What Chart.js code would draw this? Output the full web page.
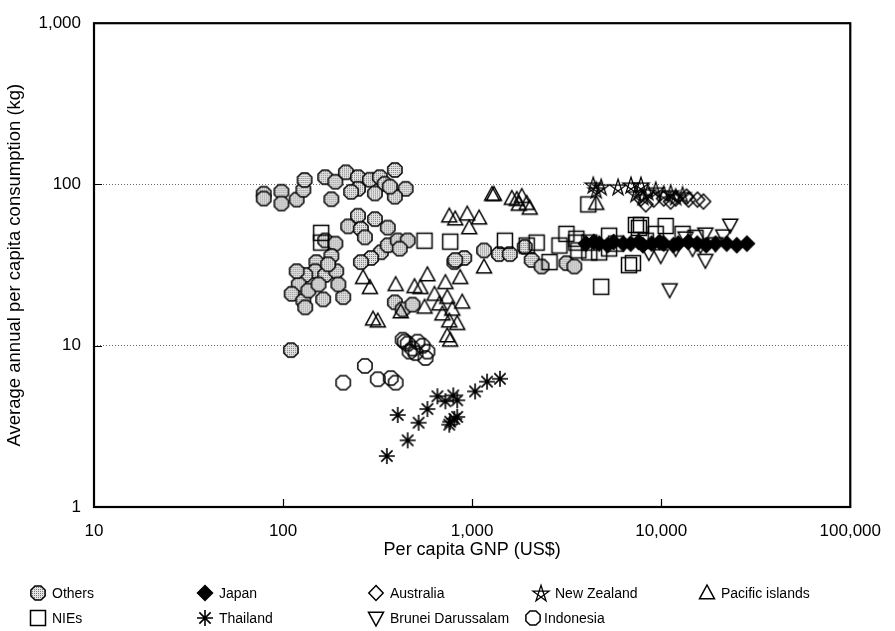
<!DOCTYPE html>
<html>
<head>
<meta charset="utf-8">
<script src="https://cdn.jsdelivr.net/npm/chart.js@4"></script>
<style>
html, body { margin: 0; background: #fff; }
</style>
</head>
<body>
<canvas id="fig" width="895" height="631"></canvas>
<script>
// values: per capita GNP (US$) and annual consumption (kg)
var othersGnp = [79, 79, 98, 98, 118, 128, 130, 167, 189, 180, 215, 249, 288, 249, 229, 325, 390, 345, 445, 390, 306, 367,
  249, 221, 306, 358, 258, 271, 167, 189, 329, 292, 258, 358, 404, 456, 414,
  180, 150, 148, 167, 191, 131, 121, 111, 128, 131, 163, 208, 196, 118, 136, 154, 173, 110,
  390, 429, 484, 805, 908, 1156, 1386, 1583, 1897, 2065, 2330, 814, 3153, 3473]
var othersKg = [87.7, 81.8, 90.2, 76.2, 80.6, 92.7, 106.6, 111, 104, 81, 119, 111, 107, 94, 90, 111, 123, 101, 94, 84, 88, 97,
  64, 55, 61, 54, 53, 47, 45, 43, 38, 35, 33, 42, 45, 45, 40,
  36, 33, 29, 27.5, 29, 27.5, 24, 21, 19, 17.3, 19.4, 20, 24, 29, 22, 24, 32, 9.4,
  18.6, 16.8, 18, 33, 35, 39, 37, 37, 41, 34, 31, 34, 32.5, 31]

var japanGnp = [4000, 4400, 4700, 5200, 5600, 6300, 6900, 7600, 8000, 8900, 9800, 10300, 11600, 12300, 13900, 15500, 17300, 19400, 22200, 25100, 28400]
var japanKg = [43, 44, 43, 42, 44, 43, 43, 44, 42, 43, 44, 43, 42, 43, 44, 43, 42, 43, 43, 42, 43]

var australiaGnp = [7807, 8290, 9133, 10310, 11220, 11920, 13610, 13950, 15550, 16720]
var australiaKg = [81.8, 75.2, 80.6, 81.8, 78.4, 81.8, 84.1, 80.6, 80.6, 78.4]

var newZealandGnp = [4370, 4531, 4813, 5910, 6918, 7348, 7807, 7998, 8494, 9356, 10310, 11220, 11920, 12970]
var newZealandKg = [99.4, 92.7, 96.7, 96.7, 99.4, 87.7, 99.4, 84.1, 90.2, 92.7, 87.7, 88.9, 84.1, 86.5]

var pacificGnp = [1274, 1305, 1622, 1723, 1944, 2016, 1830, 1765, 757, 814, 942, 1088, 965,
  265, 288, 394, 496, 299, 317, 419, 580, 533, 632, 722, 865, 1156, 739, 886, 757, 834, 739, 766, 560, 4531, 671, 785, 696]
var pacificKg = [86.5, 86.5, 81.8, 80.6, 76.2, 71.1, 84.1, 75.2, 63.6, 61, 65.4, 61.8, 53.8,
  26.4, 22.9, 23.9, 23.2, 14.6, 14.2, 16.2, 27.5, 22.9, 20.8, 24.6, 26.4, 30.7, 19.9, 18.6, 14.2, 13.7, 11.5, 10.8, 17.3, 76.2, 18.1, 16.8, 15.7]

var niesGnp = [159, 159, 560, 766, 1490, 1944, 2194, 2567, 3153, 2897, 3557, 3644, 4113, 4813, 5302, 5302, 6751, 7348, 7620, 7807,
  9356, 10560, 12970, 4698, 7086, 3557, 4164, 4164, 5771, 8290, 15180]
var niesKg = [50.1, 43.6, 44.8, 44.2, 44.8, 41.8, 43.6, 33.0, 49.4, 41.8, 43.6, 39.0, 75.2, 23.2, 48.1, 40.1, 31.6, 56.1, 53.8, 56.1,
  49.4, 55.3, 49.4, 37.9, 32.5, 46.1, 37.9, 43.6, 43.0, 44.8, 46.7]

var thailandGnp = [354, 404, 456, 521, 580, 655, 722, 795, 834, 766, 805, 834, 757, 1037, 1199, 1403]
var thailandKg = [2.07, 3.72, 2.59, 3.33, 4.05, 4.86, 4.53, 4.92, 4.59, 3.38, 3.52, 3.62, 3.24, 5.21, 5.99, 6.24]

var bruneiGnp = [23170, 17120, 21290, 13450, 9940, 17120, 8600, 11920, 14640, 11080, 19330, 16120]
var bruneiKg = [56.1, 49.4, 48.1, 46.7, 36.3, 33.9, 37.9, 40.1, 40.1, 22.3, 43.0, 41.8]

var indonesiaGnp = [208, 271, 317, 371, 394, 440, 456, 484, 514, 546, 580, 502, 467, 567, 429]
var indonesiaKg = [5.9, 7.5, 6.2, 6.3, 5.9, 10.6, 10.3, 9.6, 10.6, 10.0, 9.2, 9.0, 9.2, 8.4, 10.9]

var xTickValues = [10, 100, 1000, 10000, 100000]
var xTickLabels = ['10', '100', '1,000', '10,000', '100,000']
var yTickValues = [1, 10, 100, 1000]
var yTickLabels = ['1', '10', '100', '1,000']

var FONT = '"Liberation Sans", Arial, Helvetica, sans-serif'

// marker glyphs
function marker(draw) {
  var c = document.createElement('canvas')
  c.width = 20
  c.height = 20
  var g = c.getContext('2d')
  g.translate(10, 10)
  g.lineWidth = 1.5
  g.strokeStyle = '#000'
  g.fillStyle = '#000'
  g.lineJoin = 'miter'
  draw(g)
  return c
}
function poly(g, pts) {
  g.beginPath()
  pts.forEach(function (p, i) { if (i) g.lineTo(p[0], p[1]); else g.moveTo(p[0], p[1]) })
  g.closePath()
}
function octagon(g) {
  var pts = []
  for (var k = 0; k < 8; k++) {
    var a = Math.PI / 8 + k * Math.PI / 4
    pts.push([7.7 * Math.cos(a), 7.7 * Math.sin(a)])
  }
  poly(g, pts)
}
var dots = document.createElement('canvas')
dots.width = 2; dots.height = 2
var dg = dots.getContext('2d')
dg.fillStyle = '#e4e4e4'; dg.fillRect(0, 0, 2, 2)
dg.fillStyle = '#7c7c7c'; dg.fillRect(0, 0, 1, 1)

var marks = {
  others: marker(function (g) { octagon(g); g.fillStyle = g.createPattern(dots, 'repeat'); g.fill(); g.stroke() }),
  indonesia: marker(function (g) { octagon(g); g.stroke() }),
  nies: marker(function (g) { g.strokeRect(-7.5, -7.5, 15, 15) }),
  pacific: marker(function (g) { poly(g, [[0, -8], [7.5, 5.8], [-7.5, 5.8]]); g.stroke() }),
  brunei: marker(function (g) { poly(g, [[-7.5, -5.8], [7.5, -5.8], [0, 8]]); g.stroke() }),
  australia: marker(function (g) { poly(g, [[0, -7.5], [7.2, 0], [0, 7.5], [-7.2, 0]]); g.stroke() }),
  japan: marker(function (g) { poly(g, [[0, -7.5], [7.5, 0], [0, 7.5], [-7.5, 0]]); g.fill(); g.stroke() }),
  thailand: marker(function (g) {
    g.lineWidth = 1.6
    g.beginPath()
    for (var k = 0; k < 4; k++) {
      var a = k * Math.PI / 4
      g.moveTo(-8 * Math.cos(a), -8 * Math.sin(a))
      g.lineTo(8 * Math.cos(a), 8 * Math.sin(a))
    }
    g.stroke()
  }),
  newZealand: marker(function (g) {
    var pts = []
    for (var k = 0; k < 5; k++) {
      var a = -Math.PI / 2 + (k * 2 % 5) * 2 * Math.PI / 5
      pts.push([8.5 * Math.cos(a), 8.5 * Math.sin(a) + 0.8])
    }
    poly(g, pts)
    g.lineWidth = 1.3
    g.stroke()
  })
}

function pts(xs, ys) {
  return xs.map(function (x, i) { return { x: x, y: ys[i] } })
}
function series(label, xs, ys, mark) {
  return { label: label, data: pts(xs, ys), pointStyle: mark, pointRadius: 8, pointHoverRadius: 8 }
}

// first dataset is painted last (on top)
var datasets = [
  series('Japan', japanGnp, japanKg, marks.japan),
  series('New Zealand', newZealandGnp, newZealandKg, marks.newZealand),
  series('Australia', australiaGnp, australiaKg, marks.australia),
  series('Brunei Darussalam', bruneiGnp, bruneiKg, marks.brunei),
  series('Thailand', thailandGnp, thailandKg, marks.thailand),
  series('Indonesia', indonesiaGnp, indonesiaKg, marks.indonesia),
  series('Pacific islands', pacificGnp, pacificKg, marks.pacific),
  series('NIEs', niesGnp, niesKg, marks.nies),
  series('Others', othersGnp, othersKg, marks.others)
]

var legendItems = [
  { label: 'Others', mark: marks.others, x: 38, y: 593 },
  { label: 'Japan', mark: marks.japan, x: 205, y: 593 },
  { label: 'Australia', mark: marks.australia, x: 376, y: 593 },
  { label: 'New Zealand', mark: marks.newZealand, x: 541, y: 593 },
  { label: 'Pacific islands', mark: marks.pacific, x: 707, y: 593 },
  { label: 'NIEs', mark: marks.nies, x: 38, y: 618 },
  { label: 'Thailand', mark: marks.thailand, x: 205, y: 618 },
  { label: 'Brunei Darussalam', mark: marks.brunei, x: 376, y: 618 },
  { label: 'Indonesia', mark: marks.indonesia, x: 533, y: 618 }
]

var framePlugin = {
  id: 'frame',
  afterDraw: function (chart) {
    var ctx = chart.ctx, a = chart.chartArea
    var xs = chart.scales.x, ys = chart.scales.y
    ctx.save()
    ctx.strokeStyle = '#000'
    ctx.lineWidth = 1.2
    ctx.beginPath()
    ;[100, 1000, 10000].forEach(function (v) {
      var px = Math.round(xs.getPixelForValue(v)) + 0.5
      ctx.moveTo(px, a.bottom)
      ctx.lineTo(px, a.bottom - 8)
    })
    ;[10, 100].forEach(function (v) {
      var py = Math.round(ys.getPixelForValue(v)) + 0.5
      ctx.moveTo(a.left, py)
      ctx.lineTo(a.left + 8, py)
    })
    ctx.stroke()
    ctx.lineWidth = 2.2
    ctx.strokeRect(a.left, a.top, a.right - a.left, a.bottom - a.top)

    ctx.font = '14px ' + FONT
    ctx.fillStyle = '#000'
    ctx.textBaseline = 'middle'
    legendItems.forEach(function (it) {
      ctx.drawImage(it.mark, it.x - 10, it.y - 10)
      ctx.fillText(it.label, it.x + (it.label === 'Indonesia' ? 11 : 14), it.y + 1)
    })
    ctx.restore()
  }
}

new Chart(document.getElementById('fig').getContext('2d'), {
  type: 'scatter',
  data: { datasets: datasets },
  options: {
    responsive: false,
    animation: false,
    devicePixelRatio: 1,
    layout: { padding: { left: 0, top: 13, right: 39, bottom: 69 } },
    plugins: { legend: { display: false }, tooltip: { enabled: false } },
    scales: {
      x: {
        type: 'logarithmic',
        min: 10,
        max: 100000,
        afterBuildTicks: function (s) { s.ticks = xTickValues.map(function (v) { return { value: v } }) },
        afterFit: function (s) { s.height = 55 },
        grid: { display: false, drawTicks: false },
        border: { display: false },
        ticks: {
          color: '#000',
          font: { family: FONT, size: 17 },
          padding: 14,
          maxRotation: 0,
          autoSkip: false,
          callback: function (v) { return xTickLabels[xTickValues.indexOf(v)] }
        },
        title: {
          display: true,
          text: 'Per capita GNP (US$)',
          color: '#000',
          font: { family: FONT, size: 18 },
          padding: { top: 0, bottom: 1 }
        }
      },
      y: {
        type: 'logarithmic',
        min: 1,
        max: 1000,
        afterBuildTicks: function (s) { s.ticks = yTickValues.map(function (v) { return { value: v } }) },
        afterFit: function (s) { s.width = 94 },
        grid: {
          drawTicks: false,
          lineWidth: 1,
          color: function (c) { return (c.tick && (c.tick.value === 10 || c.tick.value === 100)) ? '#666' : 'rgba(0,0,0,0)' }
        },
        border: { display: false, dash: [1, 2] },
        ticks: {
          color: '#000',
          font: { family: FONT, size: 17 },
          padding: 13,
          autoSkip: false,
          callback: function (v) { return yTickLabels[yTickValues.indexOf(v)] }
        },
        title: {
          display: true,
          text: 'Average annual per capita consumption (kg)',
          color: '#000',
          font: { family: FONT, size: 18.5 },
          padding: { top: 4, bottom: 0 }
        }
      }
    }
  },
  plugins: [framePlugin]
})
</script>
</body>
</html>
